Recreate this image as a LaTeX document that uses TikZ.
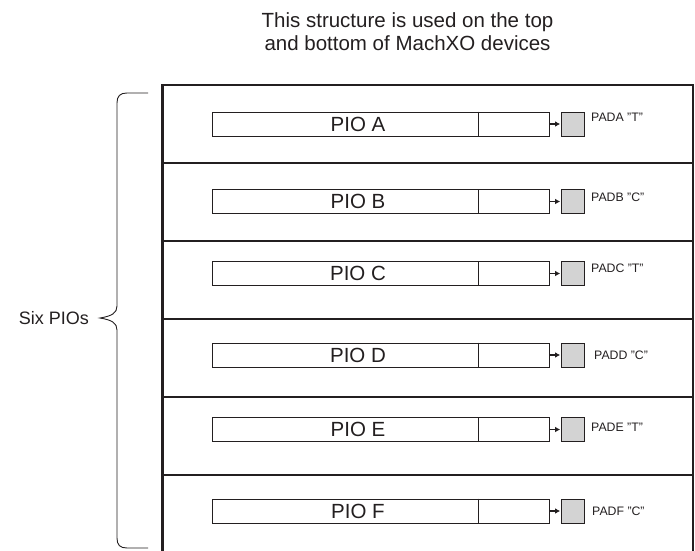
\documentclass[tikz,border=0pt]{standalone}
\usepackage{fontspec}
\setmainfont{Liberation Sans}
\usetikzlibrary{arrows.meta}
\definecolor{ink}{HTML}{231F20}
\definecolor{padgray}{HTML}{D3D3D3}
\begin{document}
\begin{tikzpicture}[x=1pt,y=-1pt,
  frameline/.style={draw=ink, line width=2.4pt},
  piobox/.style={draw=ink, line width=1pt, fill=white, minimum width=337pt, minimum height=24pt, inner sep=0pt},
  piostroke/.style={draw=ink, line width=1pt},
  piotext/.style={inner sep=0pt, text=ink, font=\fontsize{20.5}{23}\selectfont},
  padbox/.style={draw=ink, line width=1pt, fill=padgray, minimum width=23pt, minimum height=24pt, inner sep=0pt},
  padlabel/.style={anchor=west, inner sep=0pt, text=ink, font=\fontsize{12.3}{14}\selectfont},
  padarrow/.style={draw=ink, line width=1.3pt, -{Latex[length=5pt,width=5.5pt]}, shorten >=0.3pt},
  bracestroke/.style={draw=ink, line width=0.9pt},
  titletext/.style={align=center, inner sep=0pt, text=ink, font=\fontsize{20.5}{23}\selectfont},
  sidetext/.style={anchor=east, inner sep=0pt, text=ink, font=\fontsize{18}{21}\selectfont}]
\useasboundingbox (0,0) rectangle (695,550);

% title
\node[titletext] (title) at (407.5,31.5) {This structure is used on the top\\and bottom of MachXO devices};

% frame
\coordinate (fbl) at (162.5,551);
\coordinate (ftl) at (162.5,85);
\coordinate (ftr) at (693,85);
\coordinate (fbr) at (693,551);
\draw[frameline] (fbl) -- (ftl) -- (ftr) -- (fbr);
\foreach \yy in {163,241,319,397,475}{
  \draw[frameline] (162.5,\yy) -- (693,\yy);
}

% rows
\foreach \L/\cy/\t/\ly/\lx in {A/124/T/117.5/591, B/201.5/C/197.7/591, C/273.5/T/268/591, D/355/C/355.5/594, E/429.5/T/427.7/591, F/511/C/511.7/592}{
  \node[piobox] (pio\L) at (380.5,\cy) {};
  \draw[piostroke] ([xshift=266.5pt]pio\L.north west) -- ([xshift=266.5pt]pio\L.south west);
  \node[piotext] (pio\L text) at (358,\cy) {PIO \L};
  \node[padbox] (pad\L) at (572.5,\cy) {};
  \draw[padarrow] (pio\L.east) -- (pad\L.west);
  \node[padlabel] (pad\L label) at (\lx,\ly) {PAD\L{} "\t"};
}

% brace
\draw[bracestroke] (148,93) -- (127,93) .. controls (120,93) and (117,96) .. (117,103)
  -- (117,306) .. controls (117,313) and (112,316) .. (100,318)
  .. controls (112,320) and (117,323) .. (117,330)
  -- (117,538) .. controls (117,545) and (120,548) .. (127,548) -- (148,548);
\node[sidetext] (six) at (89,318) {Six PIOs};
\end{tikzpicture}
\end{document}
